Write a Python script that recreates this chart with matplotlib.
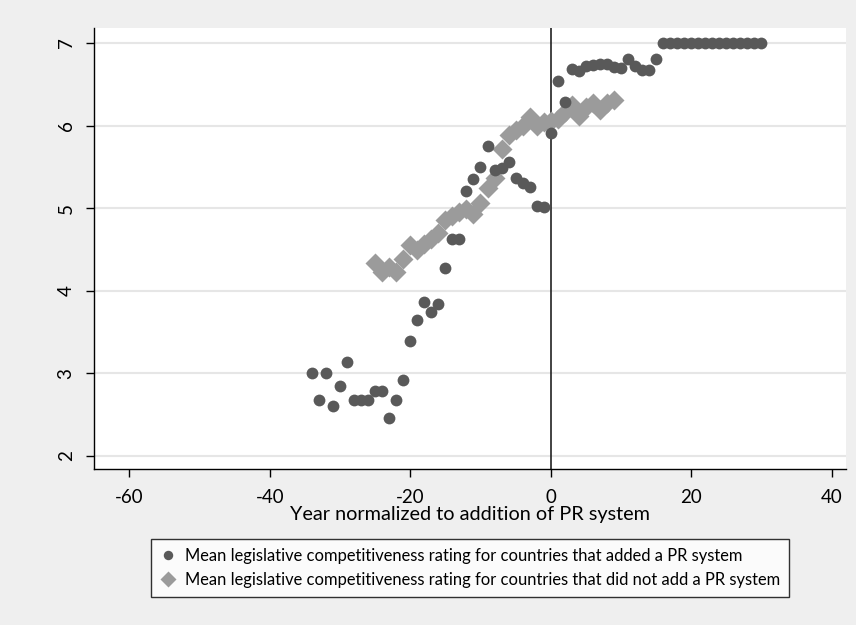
import numpy as np
import matplotlib.pyplot as plt

# years relative to PR adoption
yr_added = np.arange(-34, 31)
lc_added = [3.00, 2.67, 3.00, 2.60, 2.84, 3.14, 2.67, 2.67, 2.67, 2.78,
            2.78, 2.46, 2.67, 2.92, 3.39, 3.64, 3.86, 3.74, 3.84, 4.27,
            4.63, 4.63, 5.21, 5.35, 5.50, 5.75, 5.46, 5.48, 5.56, 5.36,
            5.30, 5.25, 5.03, 5.01, 5.91, 6.54, 6.29, 6.69, 6.66, 6.72,
            6.73, 6.74, 6.74, 6.71, 6.70, 6.81, 6.72, 6.67, 6.67, 6.80,
            7.00, 7.00, 7.00, 7.00, 7.00, 7.00, 7.00, 7.00, 7.00, 7.00,
            7.00, 7.00, 7.00, 7.00, 7.00]

yr_notadded = np.arange(-25, 10)
lc_notadded = [4.34, 4.22, 4.29, 4.22, 4.38, 4.55, 4.49, 4.57, 4.62, 4.70,
               4.85, 4.91, 4.95, 4.99, 4.93, 5.06, 5.24, 5.36, 5.72, 5.88,
               5.94, 6.00, 6.10, 6.00, 6.04, 6.06, 6.08, 6.17, 6.25, 6.12,
               6.22, 6.27, 6.19, 6.27, 6.31]

plt.rcParams['font.family'] = ['Lato', 'DejaVu Sans']
plt.rcParams['axes.unicode_minus'] = False

fig = plt.figure(figsize=(8.56, 6.25), dpi=100, facecolor='#efefef')
ax = fig.add_axes([0.110, 0.249, 0.878, 0.706])
ax.set_facecolor('white')

for y in range(2, 8):
    ax.axhline(y, color='#e6e6e6', lw=1.5, zorder=0)
ax.axvline(0, color='#222222', lw=1.2, zorder=1)

ax.plot(yr_added, lc_added, 'o', color='#595959', ms=8.5, mec='none', zorder=3,
        label='Mean legislative competitiveness rating for countries that added a PR system')
ax.plot(yr_notadded, lc_notadded, 'D', color='#9b9b9b', ms=10, mec='none', zorder=2,
        label='Mean legislative competitiveness rating for countries that did not add a PR system')

ax.set_xlim(-65, 42)
ax.set_ylim(1.835, 7.18)
ax.set_xticks([-60, -40, -20, 0, 20, 40])
ax.set_yticks([2, 3, 4, 5, 6, 7])
ax.tick_params(axis='both', direction='out', length=6, width=1, labelsize=13.5, color='black')
ax.tick_params(axis='x', pad=8)
ax.tick_params(axis='y', pad=8)
plt.setp(ax.get_yticklabels(), rotation=90, va='center')
for s in ['top', 'right']:
    ax.spines[s].set_visible(False)
for s in ['left', 'bottom']:
    ax.spines[s].set_linewidth(1.0)
ax.set_xlabel('Year normalized to addition of PR system', fontsize=14.3, labelpad=0)

leg = fig.legend(loc='upper center', bbox_to_anchor=(470 / 856, 1 - 539 / 625),
                 fontsize=11.9, frameon=True, fancybox=False, edgecolor='black',
                 handletextpad=0.5, borderpad=0.55, labelspacing=0.45, handlelength=1.0,
                 markerscale=0.8, borderaxespad=0)
leg.get_frame().set_linewidth(1.0)

fig.savefig('out.png', dpi=100, facecolor=fig.get_facecolor())
